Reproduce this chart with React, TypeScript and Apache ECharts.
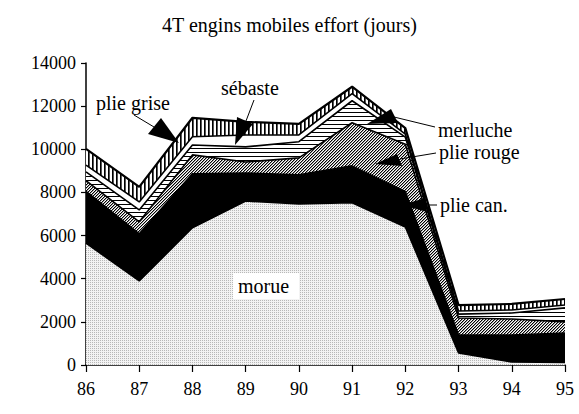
import React, { useEffect, useRef } from "react";
import * as echarts from "echarts";

const years = ["86", "87", "88", "89", "90", "91", "92", "93", "94", "95"];
const morue = [5650, 3900, 6360, 7600, 7470, 7520, 6400, 560, 140, 120];
const plieCan = [2400, 2180, 2500, 1300, 1350, 1710, 1630, 830, 1250, 1360];
const plieRouge = [500, 560, 880, 510, 780, 2000, 2200, 790, 740, 520];
const merluche = [400, 550, 460, 700, 750, 1020, 330, 180, 280, 650];
const sebaste = [320, 370, 380, 550, 320, 330, 140, 140, 140, 130];
const plieGrise = [750, 700, 880, 610, 510, 320, 280, 280, 280, 280];
const seriesNames = ["morue", "plie can.", "plie rouge", "merluche", "sébaste", "plie grise"];
const yMin = 0;
const yMax = 14000;
const yStep = 2000;
const titleText = "4T engins mobiles effort (jours)";

const FONT = "Liberation Serif";

function makePattern(kind: string): any {
  const size = kind === "hatch" ? 3 : 4;
  const c = document.createElement("canvas");
  c.width = size;
  c.height = size;
  const ctx = c.getContext("2d")!;
  ctx.fillStyle = "#ffffff";
  ctx.fillRect(0, 0, size, size);
  for (let x = 0; x < size; x++) {
    for (let y = 0; y < size; y++) {
      let col: string | null = null;
      if (kind === "dots") {
        col = (x % 2 === 0 && y % 2 === 0) ? "#b8b8b8" : "#f3f3f3";
      } else if (kind === "hatch") {
        const k = (x + y) % 3;
        col = k === 0 ? "#000000" : k === 1 ? "#9a9a9a" : null;
      } else if (kind === "hlines") {
        col = y === 0 ? "#000000" : null;
      } else if (kind === "vlines") {
        col = x === 0 ? "#000000" : x === 1 ? "#555555" : null;
      }
      if (col) {
        ctx.fillStyle = col;
        ctx.fillRect(x, y, 1, 1);
      }
    }
  }
  return { image: c, repeat: "repeat", imageWidth: size, imageHeight: size };
}

export default function App() {
  const ref = useRef<HTMLDivElement>(null);
  useEffect(() => {
    if (!ref.current) return;
    const chart = echarts.init(ref.current, null, { renderer: "svg" });
    const data = [morue, plieCan, plieRouge, merluche, sebaste, plieGrise];
    const fills = [
      makePattern("dots"),
      "#000000",
      makePattern("hatch"),
      makePattern("hlines"),
      "#ffffff",
      makePattern("vlines"),
    ];
    const areaSeries = data.map((d, i) => ({
      name: seriesNames[i],
      type: "line",
      stack: "area",
      data: d,
      symbol: "none",
      silent: true,
      lineStyle: { width: 0, opacity: 0 },
      areaStyle: { color: fills[i], opacity: 1 },
      z: 2,
    }));
    const lineSeries = data.map((d, i) => ({
      name: seriesNames[i] + " ",
      type: "line",
      stack: "outline",
      data: d,
      symbol: "none",
      silent: true,
      lineStyle: { width: i === 5 ? 2.2 : 1.6, color: "#000000" },
      z: 3,
    }));
    const black = { fill: "#000000" };
    const lineSt = { stroke: "#000000", lineWidth: 1 };
    const txt = (text: string, x: number, y: number) => ({
      type: "text",
      x,
      y,
      z: 10,
      style: {
        text,
        fontFamily: FONT,
        fontSize: 20,
        fill: "#000",
        verticalAlign: "middle",
        align: "left",
      },
    });
    chart.setOption({
      animation: false,
      title: {
        text: titleText,
        left: "center",
        top: 10,
        textStyle: { fontFamily: FONT, fontSize: 20, fontWeight: "normal", color: "#000" },
      },
      grid: { left: 86, right: 14, top: 63, bottom: 49 },
      xAxis: {
        type: "category",
        data: years,
        boundaryGap: false,
        axisLine: { lineStyle: { color: "#000", width: 1.5 } },
        axisTick: { show: true, length: 7, lineStyle: { color: "#000", width: 1.2 } },
        axisLabel: { fontFamily: FONT, fontSize: 18, color: "#000", margin: 15 },
        splitLine: { show: false },
      },
      yAxis: {
        type: "value",
        min: yMin,
        max: yMax,
        interval: yStep,
        axisLine: { show: true, lineStyle: { color: "#000", width: 1.5 } },
        axisTick: { show: true, length: 5, lineStyle: { color: "#000", width: 1.2 } },
        axisLabel: {
          fontFamily: FONT,
          fontSize: 18,
          color: "#000",
          margin: 10,
          formatter: (v: number) => String(v),
        },
        splitLine: { show: false },
      },
      series: [...areaSeries, ...lineSeries],
      graphic: [
        { type: "rect", z: 9, shape: { x: 233, y: 273, width: 66, height: 26 }, style: { fill: "#ffffff" } },
        txt("morue", 238, 286),
        txt("plie grise", 96, 103),
        { type: "line", z: 10, shape: { x1: 134, y1: 115, x2: 154, y2: 127 }, style: lineSt },
        { type: "polygon", z: 10, shape: { points: [[148, 134], [161, 118], [179, 143]] }, style: black },
        txt("sébaste", 221, 88),
        { type: "line", z: 10, shape: { x1: 254, y1: 100, x2: 246, y2: 121 }, style: lineSt },
        { type: "polygon", z: 10, shape: { points: [[237, 117], [253, 124], [235, 145]] }, style: black },
        txt("merluche", 438, 130),
        { type: "line", z: 10, shape: { x1: 394, y1: 117, x2: 435, y2: 127 }, style: lineSt },
        { type: "polygon", z: 10, shape: { points: [[367, 124], [391, 109], [398, 123]] }, style: black },
        txt("plie rouge", 439, 152),
        { type: "line", z: 10, shape: { x1: 400, y1: 159, x2: 436, y2: 153 }, style: lineSt },
        { type: "polygon", z: 10, shape: { points: [[375, 164], [397, 154], [402, 166]] }, style: black },
        txt("plie can.", 440, 205),
        { type: "line", z: 10, shape: { x1: 424, y1: 205, x2: 437, y2: 205 }, style: lineSt },
        { type: "polygon", z: 10, shape: { points: [[402, 205], [425, 198], [427, 212]] }, style: black },
      ],
    });
    return () => chart.dispose();
  }, []);
  return (
    <div
      ref={ref}
      style={{ position: "fixed", left: 0, top: 0, width: 579, height: 414, background: "#fff" }}
    />
  );
}
